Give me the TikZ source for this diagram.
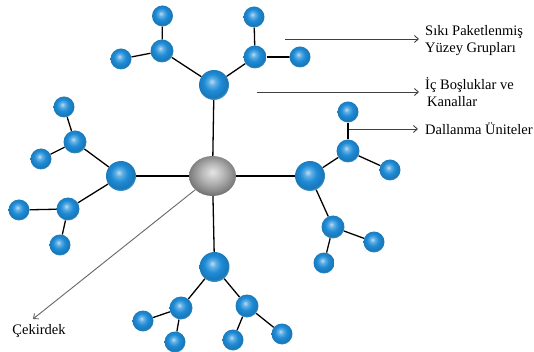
\documentclass[tikz,border=0pt]{standalone}
\usepackage{fontspec}
\setmainfont{Liberation Serif}
\definecolor{sphere-blue}{RGB}{30,140,215}
\definecolor{core-gray}{RGB}{150,150,150}
\usetikzlibrary{arrows.meta}
\usetikzlibrary{positioning}
\usetikzlibrary{shapes.geometric}
\pgfdeclareradialshading{bluesphere}{\pgfpoint{-4bp}{6bp}}{%
  color(0bp)=(sphere-blue!30!white);
  color(6bp)=(sphere-blue!70!white);
  color(14bp)=(sphere-blue);
  color(24bp)=(sphere-blue!85!black);
  color(30bp)=(sphere-blue!65!white);
  color(50bp)=(sphere-blue!65!white)}
\pgfdeclareradialshading{graysphere}{\pgfpoint{0bp}{5bp}}{%
  color(0bp)=(core-gray!25!white);
  color(12bp)=(core-gray!70!white);
  color(24bp)=(core-gray!85!black);
  color(30bp)=(core-gray!60!black);
  color(50bp)=(core-gray!60!black)}

\begin{document}
\begin{tikzpicture}[%
            x=1pt,y=-1pt,
            sphere/.style={circle,shading=bluesphere,inner sep=0pt},
            leaf/.style={sphere,minimum size=21pt},
            joint/.style={sphere,minimum size=23pt},
            arm/.style={sphere,minimum size=30pt},
            kernel/.style={ellipse,shading=graysphere,inner sep=0pt,
              minimum width=47pt,minimum height=40pt},
            bond/.style={draw,line width=1.3pt},
            note/.style={font=\fontsize{14.5}{17}\selectfont,align=left,
              anchor=west,inner sep=0pt},
            pointer/.style={-{Straight Barb[length=4pt,width=7pt]},
              draw=black!75,line width=0.9pt}
          ]
            \useasboundingbox (0,0) rectangle (534,352);

            \node [kernel] (core) at (212.5,176) {};
            \foreach \n/\x/\y in {t/214/85,l/121/176,r/310/176,b/214.5/267}
              \node [arm] (\n) at (\x,\y) {};
            \foreach \n/\x/\y in {t1/162/51,t2/255/57,l1/75/142,l2/68/209,
                                  r1/348/151,r2/333/227,b1/181/308,b2/247/306}
              \node [joint] (\n) at (\x,\y) {};
            \foreach \n/\x/\y in {t11/162.5/16,t12/121/59,t21/254/17,t22/300/57,
                                  l11/64/107,l12/41/159,l21/19/210,l22/60/245,
                                  r11/348/112,r12/390/170,r21/374/242,r22/324/263,
                                  b11/143/321,b12/175/342,b21/282/334,b22/233/340}
              \node [leaf] (\n) at (\x,\y) {};

            \foreach \a in {t,l,r,b} {
              \draw [bond] (core) -- (\a);
              \foreach \i in {1,2} {
                \draw [bond] (\a) -- (\a\i);
                \foreach \j in {1,2}
                  \draw [bond] (\a\i) -- (\a\i\j);
              }
            }

            \node [note] (tight) at (425,40.5) {Sıkı Paketlenmiş\\Yüzey Grupları};
            \node [note] (cavity) at (425,92.5) {İç Boşluklar ve\\\hspace*{2pt}Kanallar};
            \node [note] (branching) at (425,129) {Dallanma Üniteler};
            \node [note,anchor=center] (nucleus) at (39,331) {Çekirdek};

            \coordinate (tight start) at (285,39);
            \coordinate (cavity start) at (257,92);
            \coordinate (branching start) at (349,129);
            \coordinate (nucleus tip) at (33,319);
            \draw [pointer,shorten >=6pt] (tight start) -- (tight start -| tight.west);
            \draw [pointer,shorten >=6pt] (cavity start) -- (cavity start -| cavity.west);
            \draw [pointer,shorten >=7pt] (branching start) -- (branching.west);
            \draw [pointer,draw=black!60] (core) -- (nucleus tip);
          \end{tikzpicture}
\end{document}
